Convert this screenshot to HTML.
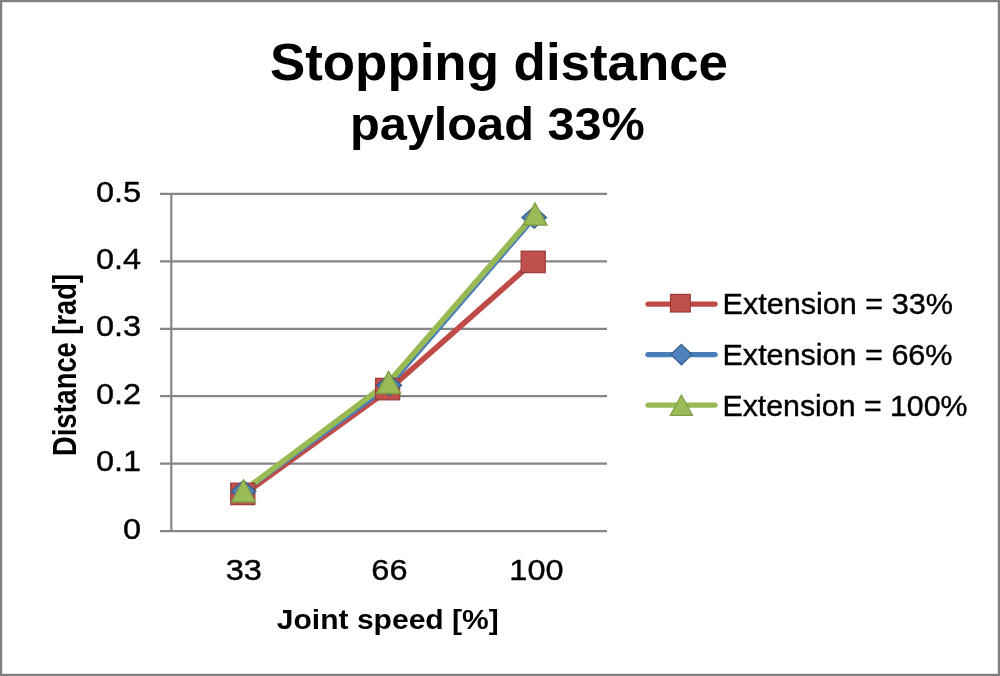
<!DOCTYPE html>
<html>
<head>
<meta charset="utf-8">
<style>
html,body{margin:0;padding:0;background:#fff;}
body{width:1000px;height:676px;overflow:hidden;}
svg{display:block;filter:blur(0.45px);}
text{font-family:"Liberation Sans",Arial,sans-serif;fill:#000;}
.b{font-weight:bold;}
.r{stroke:#000;stroke-width:0.4px;}
</style>
</head>
<body>
<svg width="1000" height="676" viewBox="0 0 1000 676">
<rect x="0" y="0" width="1000" height="676" fill="#fff"/>
<!-- chart border -->
<rect x="1" y="1" width="998" height="674" fill="none" stroke="#7f7f7f" stroke-width="2.4"/>

<!-- title -->
<text class="b" x="499" y="79.6" font-size="52.5" text-anchor="middle" textLength="458" lengthAdjust="spacingAndGlyphs">Stopping distance</text>
<text class="b" x="497.4" y="140.3" font-size="46" text-anchor="middle" textLength="295" lengthAdjust="spacingAndGlyphs">payload 33%</text>

<!-- gridlines + ticks -->
<g stroke="#868686" stroke-width="2.2" fill="none">
<line x1="160" y1="193.9" x2="607" y2="193.9"/>
<line x1="160" y1="261.3" x2="607" y2="261.3"/>
<line x1="160" y1="328.8" x2="607" y2="328.8"/>
<line x1="160" y1="396.2" x2="607" y2="396.2"/>
<line x1="160" y1="463.7" x2="607" y2="463.7"/>
<line x1="160" y1="531.1" x2="607" y2="531.1"/>
<line x1="171.3" y1="193.9" x2="171.3" y2="531.1"/>
</g>

<!-- y tick labels -->
<g class="r" font-size="29.5" text-anchor="end">
<text transform="translate(141,201.5) scale(1.1,1)">0.5</text>
<text transform="translate(141,268.9) scale(1.1,1)">0.4</text>
<text transform="translate(141,336.4) scale(1.1,1)">0.3</text>
<text transform="translate(141,403.8) scale(1.1,1)">0.2</text>
<text transform="translate(141,471.3) scale(1.1,1)">0.1</text>
<text transform="translate(141,538.7) scale(1.1,1)">0</text>
</g>

<!-- x tick labels -->
<g class="r" font-size="29.5" text-anchor="middle">
<text transform="translate(243.7,579.5) scale(1.1,1)">33</text>
<text transform="translate(389.4,579.5) scale(1.1,1)">66</text>
<text transform="translate(536.4,579.5) scale(1.1,1)">100</text>
</g>

<!-- axis titles -->
<text class="b" x="387.8" y="628.6" font-size="28" text-anchor="middle" textLength="222" lengthAdjust="spacingAndGlyphs">Joint speed [%]</text>
<text class="b" font-size="28" text-anchor="middle" textLength="182" lengthAdjust="spacingAndGlyphs" transform="translate(76.3,365) rotate(-90) scale(1,1.16)">Distance [rad]</text>

<!-- series lines -->
<g fill="none" stroke-width="5.6" stroke-linejoin="round" stroke-linecap="round">
<polyline stroke="#BE4B48" points="242.8,495.2 387.6,390.6 533.2,261.9"/>
<polyline stroke="#4A7EBB" points="243.5,491.3 389.2,385.2 534.2,217.4"/>
<polyline stroke="#98B954" points="243.5,490.8 388.6,382.3 535.0,214.0"/>
</g>
<g fill="#C0504D" stroke="#9C3D3A" stroke-width="1.3">
<rect x="230.8" y="483.2" width="24" height="21.4"/>
<rect x="375.6" y="378.4" width="24" height="21.4"/>
<rect x="521.2" y="251.2" width="24" height="21.4"/>
</g>
<g fill="#4F81BD" stroke="#385D8A" stroke-width="1.3">
<polygon points="243.5,480.5 255.8,491.3 243.5,502.1 231.2,491.3"/>
<polygon points="389.2,374.4 401.5,385.2 389.2,396.0 376.9,385.2"/>
<polygon points="534.2,206.6 546.5,217.4 534.2,228.2 521.9,217.4"/>
</g>
<g fill="#9BBB59" stroke="#7E9C44" stroke-width="1.3">
<polygon points="243.5,479.8 255.5,502.0 231.5,502.0"/>
<polygon points="388.6,371.2 400.6,393.5 376.6,393.5"/>
<polygon points="535.0,202.9 547.0,225.1 523.0,225.1"/>
</g>

<!-- legend -->
<g fill="none" stroke-width="5.4" stroke-linecap="round">
<line x1="648" y1="304.1" x2="715" y2="304.1" stroke="#BE4B48"/>
<line x1="648" y1="354.6" x2="715" y2="354.6" stroke="#4A7EBB"/>
<line x1="648" y1="405.1" x2="715" y2="405.1" stroke="#98B954"/>
</g>
<rect x="670.5" y="294.4" width="19.8" height="17.6" fill="#C0504D" stroke="#9C3D3A" stroke-width="1.2"/>
<polygon points="681.4,344.4 692,354.6 681.4,364.8 670.8,354.6" fill="#4F81BD" stroke="#385D8A" stroke-width="1.2"/>
<polygon points="681.4,395 692.5,415.3 670.3,415.3" fill="#9BBB59" stroke="#7E9C44" stroke-width="1.2"/>
<g class="r" font-size="29.2">
<text x="722.5" y="314.4" textLength="230.5" lengthAdjust="spacingAndGlyphs">Extension = 33%</text>
<text x="722.5" y="364.9" textLength="230" lengthAdjust="spacingAndGlyphs">Extension = 66%</text>
<text x="722.5" y="415.5" textLength="245" lengthAdjust="spacingAndGlyphs">Extension = 100%</text>
</g>
</svg>
</body>
</html>
